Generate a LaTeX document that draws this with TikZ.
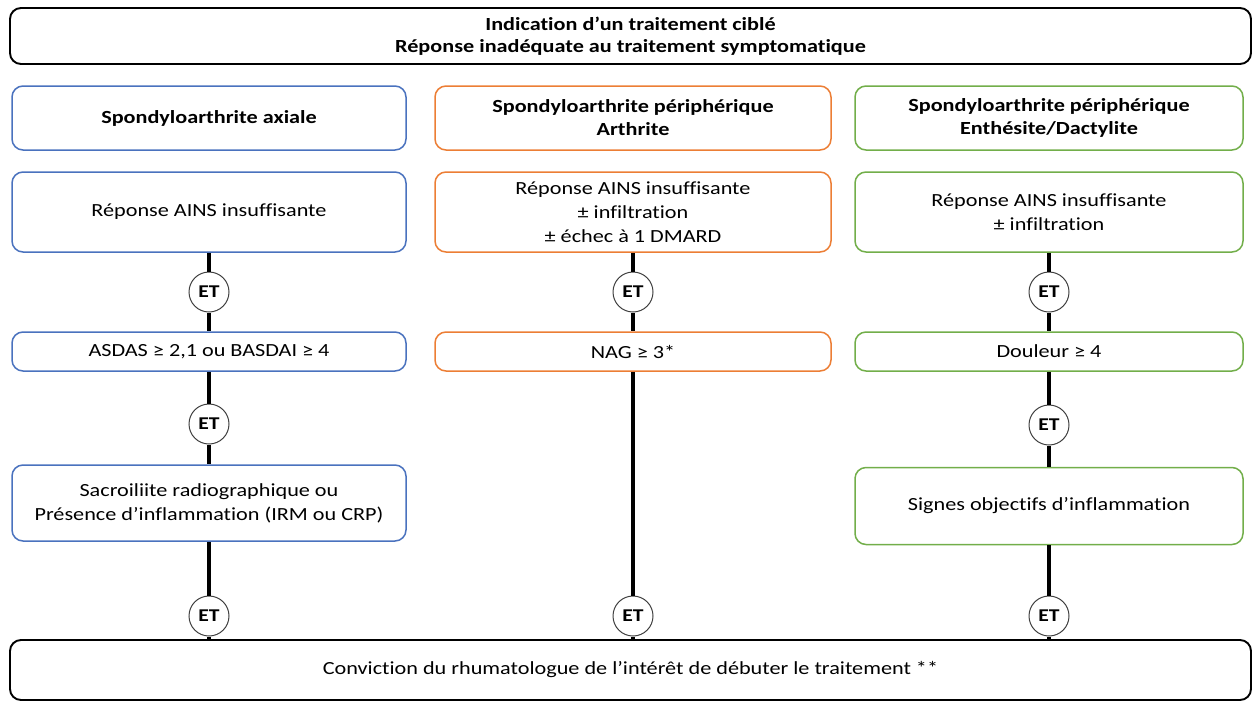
\documentclass[tikz,border=0pt]{standalone}
\usepackage{fontspec}
\setmainfont{Carlito}[FakeStretch=1.2, Ligatures=NoCommon]
\definecolor{cblue}{HTML}{4A72BE}
\definecolor{corange}{HTML}{EC7E35}
\definecolor{cgreen}{HTML}{72AE4A}
\begin{document}
\begin{tikzpicture}[x=1pt,y=-1pt,
  txt/.style={font=\fontsize{18.5}{24}\selectfont, align=center, inner sep=0pt},
  bold/.style={font=\fontsize{18.5}{23}\selectfont\bfseries},
  box/.style={txt, draw, rounded corners=11pt, line width=1.5pt},
  bigbox/.style={box, draw=black, line width=1.9pt, minimum width=1241pt},
  bbox/.style={box, draw=cblue, minimum width=394pt},
  obox/.style={box, draw=corange, minimum width=396pt},
  gbox/.style={box, draw=cgreen, minimum width=388pt},
  et/.style={circle, draw=black!75, fill=white, line width=1pt, minimum size=40pt, inner sep=0pt, font=\fontsize{18}{18}\selectfont\bfseries},
  link/.style={line width=3.3pt, black}]
\useasboundingbox (0,0) rectangle (1256,702);
% top and bottom
\node[bigbox, minimum height=56pt, font=\fontsize{18.5}{22}\selectfont\bfseries] (top) at (630.5,36) {Indication d’un traitement ciblé\\Réponse inadéquate au traitement symptomatique};
\node[bigbox, minimum height=60pt] (bot) at (630.5,670) {Conviction du rhumatologue de l’intérêt de débuter le traitement **};
% headers
\node[bbox, minimum height=64pt, bold] (hb) at (209,118) {Spondyloarthrite axiale};
\node[obox, minimum height=64pt, bold] (ho) at (633,118) {Spondyloarthrite périphérique\\Arthrite};
\node[gbox, minimum height=64pt, bold] (hg) at (1049,118) {Spondyloarthrite périphérique\\Enthésite/Dactylite};
% row 2
\node[bbox, minimum height=80pt] (b2) at (209,212) {Réponse AINS insuffisante};
\node[obox, minimum height=80pt] (o2) at (633,212) {Réponse AINS insuffisante\\± infiltration\\± échec à 1 DMARD};
\node[gbox, minimum height=80pt] (g2) at (1049,212) {Réponse AINS insuffisante\\± infiltration};
% ET row 1
\node[et] (eb1) at (209,292) {ET};
\node[et] (eo1) at (633,292) {ET};
\node[et] (eg1) at (1049,292) {ET};
% row 3
\node[bbox, minimum height=39pt] (b3) at (209,351.5) {ASDAS ≥ 2,1 ou BASDAI ≥ 4};
\node[obox, minimum height=39pt] (o3) at (633,351.5) {NAG ≥ 3*};
\node[gbox, minimum height=39pt] (g3) at (1049,351.5) {Douleur ≥ 4};
% ET row 2
\node[et] (eb2) at (209,424) {ET};
\node[et] (eg2) at (1049,425) {ET};
% row 4
\node[bbox, minimum height=76pt] (b4) at (209,503) {Sacroiliite radiographique ou\\Présence d’inflammation (IRM ou CRP)};
\node[gbox, minimum height=77pt] (g4) at (1049,506) {Signes objectifs d’inflammation};
% ET row 3
\node[et] (eb3) at (209,616) {ET};
\node[et] (eo3) at (633,616) {ET};
\node[et] (eg3) at (1049,616) {ET};
% connectors
\draw[link] (b2) -- (eb1);
\draw[link] (eb1) -- (b3);
\draw[link] (b3) -- (eb2);
\draw[link] (eb2) -- (b4);
\draw[link] (b4) -- (eb3);
\draw[link] (eb3) -- (bot.north -| eb3);
\draw[link] (o2) -- (eo1);
\draw[link] (eo1) -- (o3);
\draw[link] (o3) -- (eo3);
\draw[link] (eo3) -- (bot.north -| eo3);
\draw[link] (g2) -- (eg1);
\draw[link] (eg1) -- (g3);
\draw[link] (g3) -- (eg2);
\draw[link] (eg2) -- (g4);
\draw[link] (g4) -- (eg3);
\draw[link] (eg3) -- (bot.north -| eg3);
\end{tikzpicture}
\end{document}
